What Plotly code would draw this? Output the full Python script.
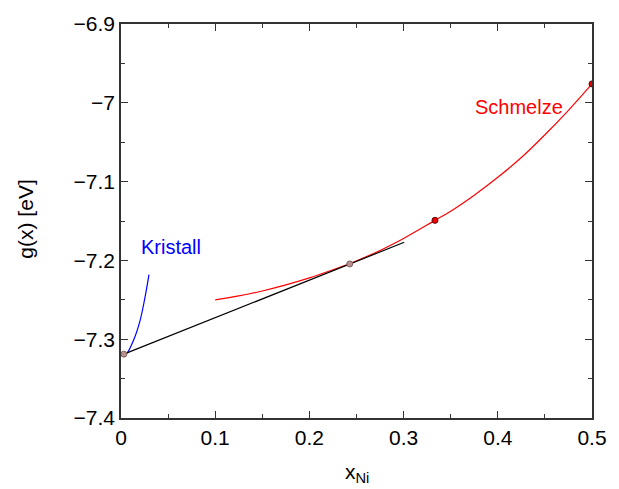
import plotly.graph_objects as go

# Data
schmelze_x = [0.10, 0.125, 0.15, 0.175, 0.20, 0.225, 0.243, 0.275, 0.30, 0.3333, 0.35, 0.375, 0.40, 0.425, 0.45, 0.475, 0.50]
schmelze_y = [-7.250, -7.2451, -7.2388, -7.2311, -7.2222, -7.2119, -7.2040, -7.1874, -7.1722, -7.1492,
              -7.1375, -7.1172, -7.0945, -7.0695, -7.0405, -7.0095, -6.976]

kristall_x = [0.004, 0.0062, 0.0131, 0.0201, 0.0253, 0.0297]
kristall_y = [-7.318, -7.3177, -7.302, -7.277, -7.248, -7.218]

tangent_x = [0.003, 0.3007]
tangent_y = [-7.319, -7.177]

tangent_pts_x = [0.003, 0.2428]
tangent_pts_y = [-7.319, -7.2045]

melt_pts_x = [0.3333, 0.50]
melt_pts_y = [-7.1492, -6.976]

FONT = "Liberation Sans"

fig = go.Figure()
fig.add_trace(go.Scatter(x=schmelze_x, y=schmelze_y, mode="lines",
                         line=dict(color="#ff0000", width=1.2, shape="spline"), showlegend=False))
fig.add_trace(go.Scatter(x=kristall_x, y=kristall_y, mode="lines",
                         line=dict(color="#0000ff", width=1.2, shape="spline"), showlegend=False))
fig.add_trace(go.Scatter(x=tangent_x, y=tangent_y, mode="lines",
                         line=dict(color="#000000", width=1.2), showlegend=False))
fig.add_trace(go.Scatter(x=tangent_pts_x, y=tangent_pts_y, mode="markers",
                         marker=dict(color="#b89090", size=6, line=dict(color="#806060", width=1)),
                         showlegend=False))
fig.add_trace(go.Scatter(x=melt_pts_x, y=melt_pts_y, mode="markers",
                         marker=dict(color="#ee0000", size=6, line=dict(color="#600000", width=1)),
                         showlegend=False))

fig.add_annotation(x=0.053, y=-7.1828, text="Kristall", showarrow=False,
                   font=dict(color="#0000ff", size=20, family=FONT))
fig.add_annotation(x=0.422, y=-7.0053, text="Schmelze", showarrow=False,
                   font=dict(color="#ff0000", size=20, family=FONT))

# axis titles
fig.add_annotation(xref="paper", yref="paper", x=-0.2017, y=0.506, text="g(x) [eV]",
                   textangle=-90, showarrow=False, xanchor="center", yanchor="middle",
                   font=dict(size=21, family=FONT, color="#000000"))
fig.add_annotation(xref="paper", yref="paper", x=0.5, y=-0.1003, text="x<sub>Ni</sub>",
                   showarrow=False, xanchor="center", yanchor="top",
                   font=dict(size=21, family=FONT, color="#000000"))

axis_common = dict(showline=True, linecolor="#333333", linewidth=1.5, mirror="allticks",
                   ticks="inside", ticklen=7, tickwidth=1.2, tickcolor="#333333",
                   showgrid=False, zeroline=False,
                   tickfont=dict(size=21, family=FONT, color="#000000"))

fig.update_xaxes(range=[0, 0.5], dtick=0.1, tick0=0,
                 minor=dict(ticks="inside", dtick=0.05, ticklen=4, tickcolor="#333333", tickwidth=1),
                 **axis_common)
fig.update_yaxes(range=[-7.4, -6.9], dtick=0.1, tick0=-7.4,
                 minor=dict(ticks="inside", dtick=0.05, ticklen=4, tickcolor="#333333", tickwidth=1),
                 **axis_common)

fig.update_layout(width=619, height=489, margin=dict(l=121, r=17, t=19, b=71),
                  plot_bgcolor="white", paper_bgcolor="white")

fig.write_html("out.html")
